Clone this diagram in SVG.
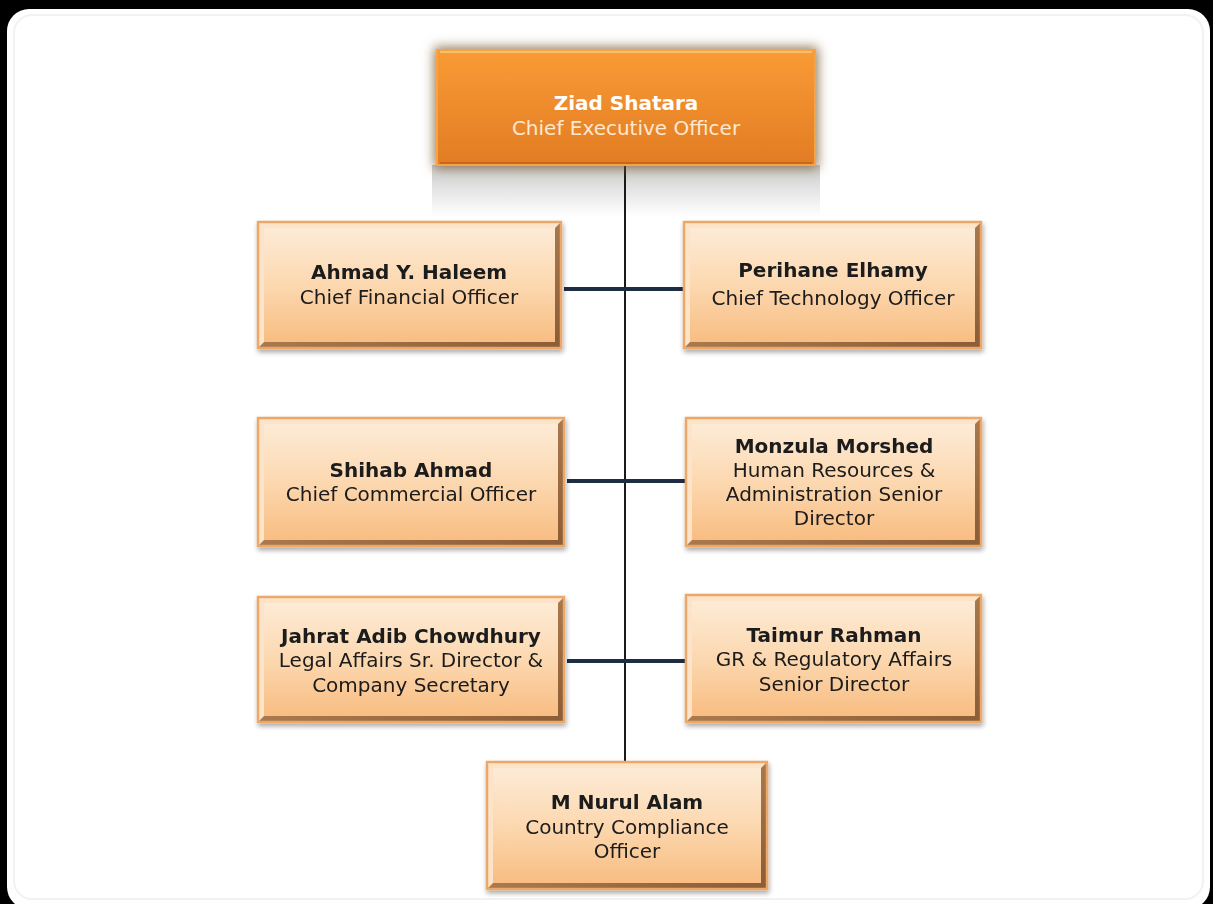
<svg xmlns="http://www.w3.org/2000/svg" width="1213" height="904" viewBox="0 0 1213 904">
<defs>
<linearGradient id="peach" x1="0" y1="0" x2="0" y2="1">
<stop offset="0" stop-color="#fdebd6"/>
<stop offset="0.5" stop-color="#fcd8b0"/>
<stop offset="1" stop-color="#f8bd82"/>
</linearGradient>
<linearGradient id="orange" x1="0" y1="0" x2="0" y2="1">
<stop offset="0" stop-color="#f99b35"/>
<stop offset="1" stop-color="#e27c24"/>
</linearGradient>
<linearGradient id="dark" x1="0" y1="0" x2="1" y2="1">
<stop offset="0" stop-color="#c89464"/>
<stop offset="1" stop-color="#8a5c36"/>
</linearGradient>
<linearGradient id="refl" x1="0" y1="0" x2="0" y2="1">
<stop offset="0" stop-color="#c9c9c9"/>
<stop offset="0.5" stop-color="#e6e6e6"/>
<stop offset="1" stop-color="#ffffff"/>
</linearGradient>
<filter id="sh" x="-10%" y="-10%" width="120%" height="130%">
<feGaussianBlur in="SourceAlpha" stdDeviation="2.5"/>
<feOffset dx="1" dy="3" result="b"/>
<feComponentTransfer><feFuncA type="linear" slope="0.35"/></feComponentTransfer>
<feMerge><feMergeNode/><feMergeNode in="SourceGraphic"/></feMerge>
</filter>
<filter id="glow" x="-15%" y="-30%" width="130%" height="160%">
<feFlood flood-color="#7a5a30" flood-opacity="0.8"/>
<feComposite operator="in" in2="SourceAlpha"/>
<feMorphology operator="dilate" radius="3"/>
<feGaussianBlur stdDeviation="6"/>
<feMerge><feMergeNode/><feMergeNode in="SourceGraphic"/></feMerge>
</filter>
</defs>
<style>
text{font-family:"DejaVu Sans","Verdana",sans-serif;font-size:20px;text-anchor:middle;fill:#1a1a1a}
.n{font-weight:bold}
.ceo{fill:#ffffff}
.ceot{fill:#fde8d2}
.rim{fill:none;stroke:#eba869;stroke-width:2.5}
.lt{fill:#fde4c8}
.dk{fill:url(#dark)}
.in{fill:url(#peach)}
.bar{stroke:#1e2c44;stroke-width:4;fill:none}
.vl{stroke:#1a1a1a;stroke-width:2;fill:none}
</style>
<rect x="0" y="0" width="1213" height="904" fill="#000"/>
<rect x="7" y="9" width="1203" height="900" rx="22" fill="#fff"/>
<rect x="14" y="15" width="1189" height="884" rx="18" fill="none" stroke="#f2f2f2" stroke-width="2"/>

<g id="connectors">
<line class="vl" x1="625" y1="165" x2="625" y2="763"/>
<line class="bar" x1="564" y1="289" x2="686" y2="289"/>
<line class="bar" x1="567" y1="481" x2="689" y2="481"/>
<line class="bar" x1="567" y1="661" x2="689" y2="661"/>
</g>

<g id="ceo">
<rect x="432" y="165" width="388" height="52" fill="url(#refl)"/>
<line class="vl" x1="625" y1="165" x2="625" y2="217"/>
<g filter="url(#glow)">
<rect x="437" y="50" width="378" height="115" fill="url(#orange)"/>
</g>
<rect x="437" y="50" width="378" height="115" fill="none" stroke="#f4a447" stroke-width="2"/>
<line x1="440" y1="52" x2="812" y2="52" stroke="#fbbf6c" stroke-width="2"/>
<line x1="440" y1="163" x2="812" y2="163" stroke="#c9661a" stroke-width="2"/>
<text class="n ceo" x="626" y="110">Ziad Shatara</text>
<text class="ceot" x="626" y="135">Chief Executive Officer</text>
</g>

<g id="cfo" filter="url(#sh)">
<rect class="dk" x="258" y="222" width="303" height="126"/>
<polygon class="lt" points="258,222 561,222 555,228 264,228 264,342 258,348"/>
<rect class="in" x="264" y="228" width="291" height="114"/>
<rect class="rim" x="258" y="222" width="303" height="126"/>
<text class="n" x="409" y="279">Ahmad Y. Haleem</text>
<text x="409" y="304">Chief Financial Officer</text>
</g>

<g id="cto" filter="url(#sh)">
<rect class="dk" x="684" y="222" width="297" height="126"/>
<polygon class="lt" points="684,222 981,222 975,228 690,228 690,342 684,348"/>
<rect class="in" x="690" y="228" width="285" height="114"/>
<rect class="rim" x="684" y="222" width="297" height="126"/>
<text class="n" x="833" y="277">Perihane Elhamy</text>
<text x="833" y="305">Chief Technology Officer</text>
</g>

<g id="cco" filter="url(#sh)">
<rect class="dk" x="258" y="418" width="306" height="128"/>
<polygon class="lt" points="258,418 564,418 558,424 264,424 264,540 258,546"/>
<rect class="in" x="264" y="424" width="294" height="116"/>
<rect class="rim" x="258" y="418" width="306" height="128"/>
<text class="n" x="411" y="477">Shihab Ahmad</text>
<text x="411" y="501">Chief Commercial Officer</text>
</g>

<g id="hr" filter="url(#sh)">
<rect class="dk" x="686" y="418" width="295" height="128"/>
<polygon class="lt" points="686,418 981,418 975,424 692,424 692,540 686,546"/>
<rect class="in" x="692" y="424" width="283" height="116"/>
<rect class="rim" x="686" y="418" width="295" height="128"/>
<text class="n" x="834" y="453">Monzula Morshed</text>
<text x="834" y="477">Human Resources &amp;</text>
<text x="834" y="501">Administration Senior</text>
<text x="834" y="525">Director</text>
</g>

<g id="legal" filter="url(#sh)">
<rect class="dk" x="258" y="597" width="306" height="125"/>
<polygon class="lt" points="258,597 564,597 558,603 264,603 264,716 258,722"/>
<rect class="in" x="264" y="603" width="294" height="113"/>
<rect class="rim" x="258" y="597" width="306" height="125"/>
<text class="n" x="411" y="643">Jahrat Adib Chowdhury</text>
<text x="411" y="667">Legal Affairs Sr. Director &amp;</text>
<text x="411" y="692">Company Secretary</text>
</g>

<g id="gr" filter="url(#sh)">
<rect class="dk" x="686" y="595" width="295" height="127"/>
<polygon class="lt" points="686,595 981,595 975,601 692,601 692,716 686,722"/>
<rect class="in" x="692" y="601" width="283" height="115"/>
<rect class="rim" x="686" y="595" width="295" height="127"/>
<text class="n" x="834" y="642">Taimur Rahman</text>
<text x="834" y="666">GR &amp; Regulatory Affairs</text>
<text x="834" y="691">Senior Director</text>
</g>

<g id="compliance" filter="url(#sh)">
<rect class="dk" x="487" y="762" width="280" height="127"/>
<polygon class="lt" points="487,762 767,762 761,768 493,768 493,883 487,889"/>
<rect class="in" x="493" y="768" width="268" height="115"/>
<rect class="rim" x="487" y="762" width="280" height="127"/>
<text class="n" x="627" y="809">M Nurul Alam</text>
<text x="627" y="834">Country Compliance</text>
<text x="627" y="858">Officer</text>
</g>
</svg>
